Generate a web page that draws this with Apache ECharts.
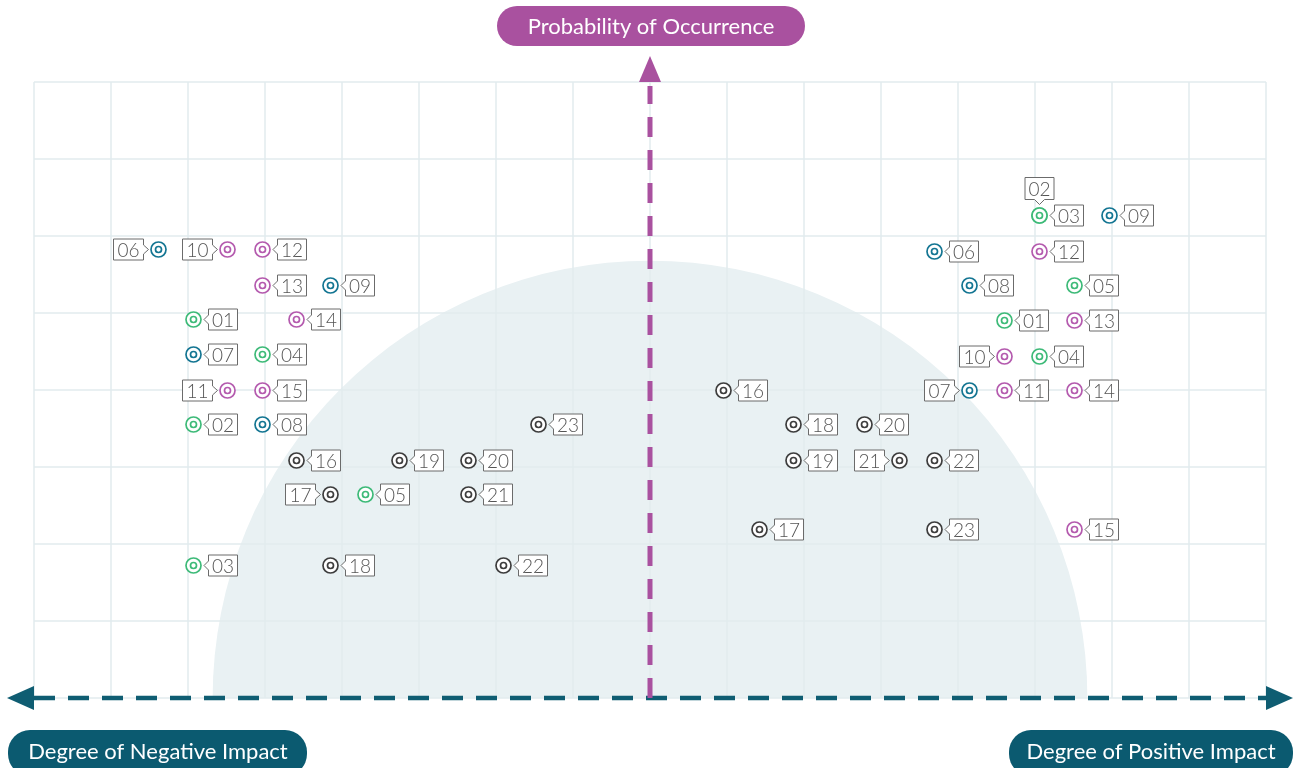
<!DOCTYPE html>
<html>
<head>
<meta charset="utf-8">
<script src="https://cdn.jsdelivr.net/npm/echarts@6/dist/echarts.min.js"></script>
<style>
html, body { margin: 0; padding: 0; background: #fff; }
#main { width: 1300px; height: 768px; }
</style>
</head>
<body>
<div id="main"></div>
<script>
// negative impact risks (left half)
var negIds  = ['06', '10', '12', '13', '09', '01', '14', '07', '04', '11', '15', '02', '08', '23', '16', '19', '20', '17', '05', '21', '03', '18', '22'];
var negX    = [-6.39, -5.49, -5.04, -5.04, -4.16, -5.94, -4.60, -5.94, -5.04, -5.49, -5.04, -5.94, -5.04, -1.45, -4.60, -3.26, -2.36, -4.16, -3.70, -2.36, -5.94, -4.16, -1.91];
var negY    = [5.83, 5.83, 5.83, 5.36, 5.36, 4.92, 4.92, 4.47, 4.47, 4.00, 4.00, 3.56, 3.56, 3.56, 3.09, 3.09, 3.09, 2.65, 2.65, 2.65, 1.73, 1.73, 1.73];
var negSide = ['l', 'l', 'r', 'r', 'r', 'r', 'r', 'r', 'r', 'l', 'r', 'r', 'r', 'r', 'r', 'r', 'r', 'l', 'r', 'r', 'r', 'r', 'r'];

// positive impact risks (right half)
var posIds  = ['03', '02', '09', '06', '12', '08', '05', '01', '13', '10', '04', '16', '07', '11', '14', '18', '20', '19', '21', '22', '17', '23', '15'];
var posX    = [5.05, 5.05, 5.96, 3.69, 5.05, 4.14, 5.51, 4.60, 5.51, 4.60, 5.05, 0.95, 4.14, 4.60, 5.51, 1.86, 2.78, 1.86, 3.23, 3.69, 1.42, 3.69, 5.51];
var posY    = [6.27, 6.27, 6.27, 5.81, 5.81, 5.36, 5.36, 4.91, 4.91, 4.44, 4.44, 4.00, 4.00, 4.00, 4.00, 3.56, 3.56, 3.09, 3.09, 3.09, 2.19, 2.19, 2.19];
var posSide = ['r', 't', 'r', 'r', 'r', 'r', 'r', 'r', 'r', 'l', 'r', 'r', 'l', 'r', 'r', 'r', 'r', 'r', 'l', 'r', 'r', 'r', 'r'];

var zoneRadius = 5.68;

var fontName = 'Lato';

function riskColor(id) {
    var n = parseInt(id, 10);
    if (n <= 5) return '#3dba78';
    if (n <= 9) return '#137592';
    if (n <= 15) return '#b45aae';
    return '#3d3d3d';
}

function riskSeries(ids, xs, ys, sides) {
    return {
        type: 'custom',
        z: 5,
        data: xs.map(function (x, i) { return [x, ys[i]]; }),
        renderItem: function (params, api) {
            var i = params.dataIndex;
            var p = api.coord([api.value(0), api.value(1)]);
            var cx = Math.round(p[0]) + 0.5, cy = Math.round(p[1]) + 0.5;
            var color = riskColor(ids[i]);
            var side = sides[i];
            var pts, tx, ty, L, R, T, B;
            if (side === 'r') {
                L = cx + 15; R = L + 29; T = cy - 10.5; B = cy + 10.5;
                pts = [[L, T], [R, T], [R, B], [L, B], [L, cy + 4.5], [cx + 10.5, cy], [L, cy - 4.5]];
            } else if (side === 'l') {
                R = cx - 15; L = R - 30; T = cy - 10.5; B = cy + 10.5;
                pts = [[L, T], [R, T], [R, cy - 4.5], [cx - 10, cy], [R, cy + 4.5], [R, B], [L, B]];
            } else {
                B = cy - 16; T = B - 22; L = cx - 14.5; R = cx + 14.5;
                pts = [[L, T], [R, T], [R, B], [cx + 5, B], [cx, cy - 11], [cx - 5, B], [L, B]];
            }
            tx = (L + R) / 2; ty = (T + B) / 2 + 1;
            return {
                type: 'group',
                children: [
                    { type: 'circle', shape: { cx: cx, cy: cy, r: 7.5 }, style: { fill: '#fff', stroke: color, lineWidth: 1.7 } },
                    { type: 'circle', shape: { cx: cx, cy: cy, r: 3 }, style: { fill: '#fff', stroke: color, lineWidth: 1.7 } },
                    { type: 'polygon', shape: { points: pts }, style: { fill: '#fff', stroke: '#6b6b6b', lineWidth: 1 } },
                    { type: 'text', style: { text: ids[i], x: tx, y: ty, fill: '#555', fontSize: 19, fontWeight: 300, fontFamily: fontName, align: 'center', verticalAlign: 'middle' } }
                ]
            };
        }
    };
}

var myChart = echarts.init(document.getElementById('main'));

var option = {
    animation: false,
    grid: { left: 34, right: 34, top: 82, bottom: 70 },
    xAxis: {
        type: 'value', min: -8, max: 8, interval: 1,
        axisLine: { show: false }, axisTick: { show: false }, axisLabel: { show: false },
        splitLine: { show: true, lineStyle: { color: '#e2ebee', width: 1.5 } }
    },
    yAxis: {
        type: 'value', min: 0, max: 8, interval: 1,
        axisLine: { show: false }, axisTick: { show: false }, axisLabel: { show: false },
        splitLine: { show: true, lineStyle: { color: '#e2ebee', width: 1.5 } }
    },
    series: [
        // shaded half circle behind the grid
        {
            type: 'custom',
            z: -1,
            silent: true,
            data: [[0, 0]],
            renderItem: function (params, api) {
                var c = api.coord([0, 0]);
                var e = api.coord([zoneRadius, 0]);
                return {
                    type: 'sector',
                    shape: { cx: c[0], cy: c[1], r0: 0, r: e[0] - c[0], startAngle: Math.PI, endAngle: Math.PI * 2, clockwise: true },
                    style: { fill: '#e9f1f3' }
                };
            }
        },
        riskSeries(negIds, negX, negY, negSide),
        riskSeries(posIds, posX, posY, posSide)
    ],
    graphic: [
        // horizontal impact axis
        { type: 'line', z: 3, shape: { x1: 34, y1: 698, x2: 1266, y2: 698 }, style: { stroke: '#0f5d72', lineWidth: 4.5, lineDash: [21, 13] } },
        { type: 'polygon', z: 3, shape: { points: [[7, 698], [34, 686], [34, 710]] }, style: { fill: '#0f5d72' } },
        { type: 'polygon', z: 3, shape: { points: [[1293, 698], [1266, 686], [1266, 710]] }, style: { fill: '#0f5d72' } },
        // vertical probability axis
        { type: 'line', z: 3, shape: { x1: 650, y1: 698, x2: 650, y2: 86 }, style: { stroke: '#a9519f', lineWidth: 5, lineDash: [20, 13] } },
        { type: 'polygon', z: 3, shape: { points: [[650, 56], [639, 82], [661, 82]] }, style: { fill: '#a9519f' } },
        // title pills
        { type: 'rect', z: 3, shape: { x: 497, y: 6, width: 308, height: 40, r: 20 }, style: { fill: '#a9519f' } },
        { type: 'text', z: 4, style: { text: 'Probability of Occurrence', x: 651, y: 27, fill: '#fff', fontSize: 22, fontFamily: fontName, align: 'center', verticalAlign: 'middle' } },
        { type: 'rect', z: 3, shape: { x: 8, y: 730, width: 299, height: 46, r: 22 }, style: { fill: '#0b5a70' } },
        { type: 'text', z: 4, style: { text: 'Degree of Negative Impact', x: 158, y: 752, fill: '#fff', fontSize: 22, fontFamily: fontName, align: 'center', verticalAlign: 'middle' } },
        { type: 'rect', z: 3, shape: { x: 1009, y: 730, width: 284, height: 46, r: 22 }, style: { fill: '#0b5a70' } },
        { type: 'text', z: 4, style: { text: 'Degree of Positive Impact', x: 1151, y: 752, fill: '#fff', fontSize: 22, fontFamily: fontName, align: 'center', verticalAlign: 'middle' } }
    ]
};
myChart.setOption(option);
</script>
</body>
</html>
